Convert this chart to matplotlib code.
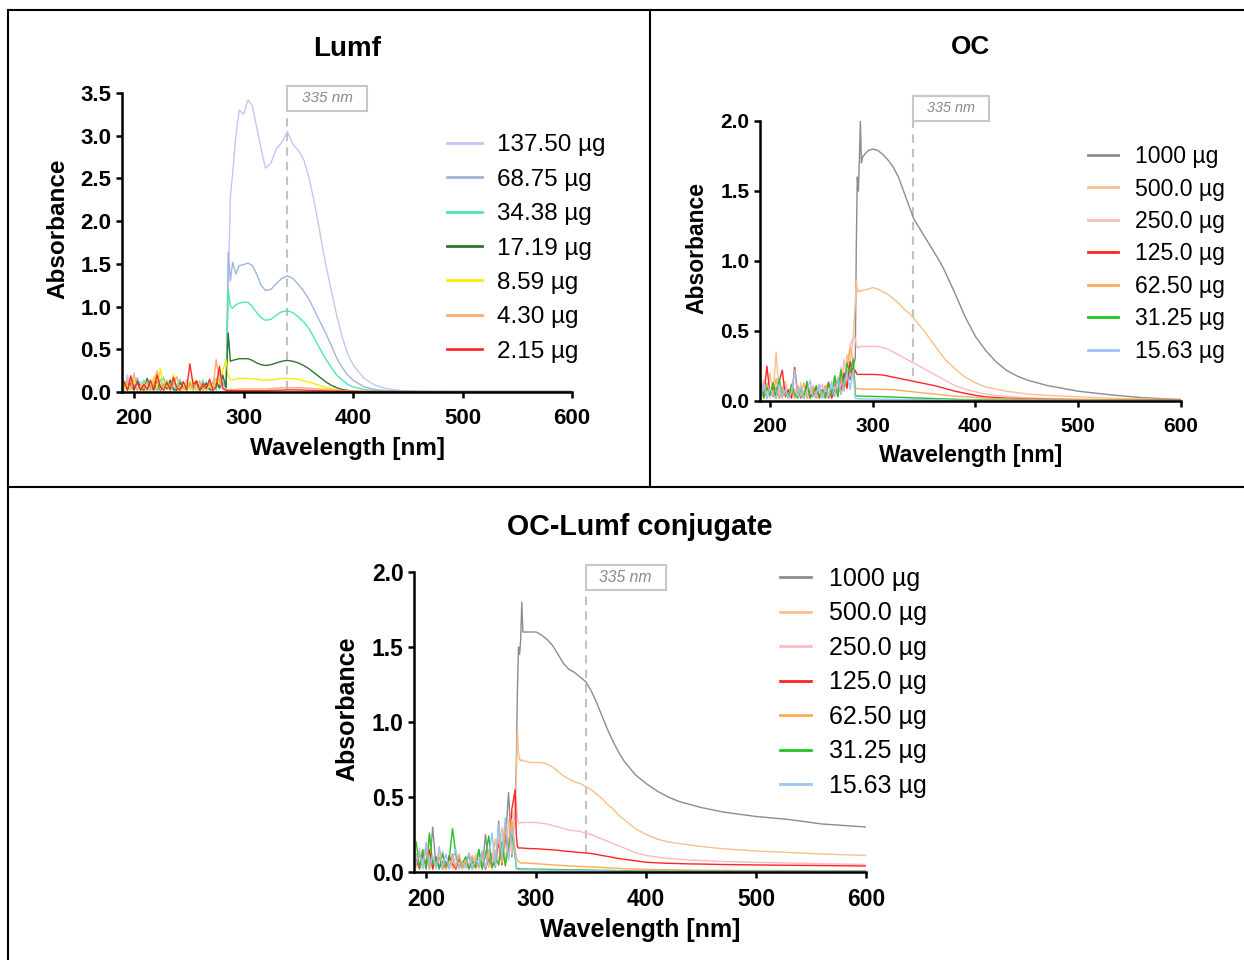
import matplotlib

matplotlib.use("Agg")
import matplotlib.pyplot as plt
import matplotlib.transforms as mtransforms
from matplotlib.lines import Line2D
from matplotlib.patches import Rectangle
from matplotlib.ticker import FormatStrFormatter, MultipleLocator

plt.rcParams["font.family"] = ["Liberation Sans", "DejaVu Sans"]

# ---------------------------------------------------------------- data
# shared noisy region below ~283 nm (every 3 nm)
NOISE_WL = [191, 194, 197, 200, 203, 206, 209, 212, 215, 218, 221, 224, 227, 230,
            233, 236, 239, 242, 245, 248, 251, 254, 257, 260, 263, 266, 269, 272,
            275, 278, 281]

# --- Lumf
LUMF_WL = NOISE_WL + [284, 286, 288, 290, 293, 296, 300, 304, 308, 312, 316, 320,
                      325, 330, 335, 340, 345, 350, 355, 360, 365, 370, 375, 380,
                      385, 390, 395, 400, 410, 420, 430, 445, 460, 500, 550, 600]
LUMF_LABELS = ["137.50 µg", "68.75 µg", "34.38 µg", "17.19 µg", "8.59 µg", "4.30 µg", "2.15 µg"]
LUMF_COLORS = ["#c3c6f5", "#9fb6dc", "#4fe6ac", "#2f7430", "#f5ee00", "#ffad6b", "#ff2a2a"]

LUMF_137 = [0.04, 0.20, 0.03, 0.09, 0.02, 0.13, 0.05, 0.02, 0.11, 0.04, 0.16, 0.02, 0.07, 0.12,
            0.03, 0.08, 0.02, 0.10, 0.04, 0.14, 0.03, 0.06, 0.02, 0.11, 0.05, 0.09, 0.02, 0.13,
            0.04, 0.22, 0.08,
            0.05, 1.2, 2.3, 2.55, 3.0, 3.3, 3.25, 3.42, 3.35, 3.1, 2.85, 2.62, 2.68, 2.85, 2.92,
            3.05, 2.9, 2.83, 2.72, 2.5, 2.2, 1.85, 1.5, 1.2, 0.9, 0.65, 0.45, 0.32, 0.16, 0.08,
            0.04, 0.015, 0.01, 0.005, 0.005, 0.005]
LUMF_68 = [0.10, 0.02, 0.14, 0.05, 0.17, 0.02, 0.08, 0.12, 0.03, 0.09, 0.02, 0.15, 0.04, 0.06,
           0.02, 0.13, 0.05, 0.03, 0.12, 0.02, 0.08, 0.11, 0.03, 0.07, 0.02, 0.12, 0.04, 0.06,
           0.16, 0.03, 0.12,
           0.05, 1.64, 1.3, 1.52, 1.38, 1.48, 1.49, 1.51, 1.48, 1.38, 1.25, 1.19, 1.2, 1.27, 1.33,
           1.36, 1.33, 1.26, 1.18, 1.08, 0.95, 0.82, 0.69, 0.55, 0.4, 0.29, 0.2, 0.14, 0.06, 0.03,
           0.015, 0.01, 0.005, 0.005, 0.005, 0.005]
LUMF_34 = [0.02, 0.12, 0.06, 0.03, 0.11, 0.04, 0.14, 0.02, 0.06, 0.13, 0.02, 0.05, 0.17, 0.03,
           0.10, 0.02, 0.07, 0.15, 0.03, 0.05, 0.12, 0.02, 0.09, 0.03, 0.14, 0.02, 0.08, 0.11,
           0.02, 0.26, 0.10,
           0.05, 1.2, 1.0, 0.98, 1.02, 1.04, 1.05, 1.05, 1.0, 0.93, 0.87, 0.84, 0.85, 0.9, 0.94,
           0.95, 0.93, 0.88, 0.82, 0.74, 0.62, 0.5, 0.39, 0.29, 0.2, 0.14, 0.09, 0.06, 0.03, 0.015,
           0.01, 0.005, 0.005, 0.005, 0.005, 0.005]
LUMF_17 = [0.08, 0.03, 0.10, 0.02, 0.13, 0.06, 0.02, 0.16, 0.04, 0.03, 0.12, 0.02, 0.09, 0.04,
           0.14, 0.03, 0.02, 0.11, 0.05, 0.02, 0.10, 0.04, 0.13, 0.02, 0.06, 0.10, 0.03, 0.02,
           0.12, 0.05, 0.20,
           0.05, 0.69, 0.36, 0.37, 0.38, 0.39, 0.39, 0.39, 0.37, 0.34, 0.32, 0.31, 0.32, 0.34, 0.36,
           0.37, 0.36, 0.34, 0.31, 0.27, 0.22, 0.17, 0.12, 0.08, 0.05, 0.03, 0.02, 0.01, 0.005,
           0.005, 0.005, 0.005, 0.005, 0.005, 0.005, 0.005]
LUMF_8 = [0.03, 0.09, 0.02, 0.15, 0.03, 0.06, 0.10, 0.03, 0.02, 0.18, 0.05, 0.27, 0.03, 0.08,
          0.02, 0.20, 0.04, 0.06, 0.02, 0.12, 0.03, 0.15, 0.02, 0.05, 0.10, 0.03, 0.07, 0.02,
          0.14, 0.10, 0.25,
          0.38, 0.2, 0.14, 0.14, 0.15, 0.16, 0.16, 0.16, 0.155, 0.15, 0.14, 0.14, 0.14, 0.15, 0.16,
          0.16, 0.155, 0.15, 0.13, 0.115, 0.095, 0.075, 0.055, 0.04, 0.025, 0.015, 0.01, 0.008,
          0.005, 0.003, 0.003, 0.003, 0.003, 0.003, 0.003, 0.003]
LUMF_4 = [0.06, 0.14, 0.03, 0.22, 0.02, 0.08, 0.04, 0.12, 0.02, 0.10, 0.25, 0.03, 0.06, 0.14,
          0.02, 0.09, 0.18, 0.03, 0.05, 0.02, 0.11, 0.03, 0.08, 0.13, 0.02, 0.06, 0.10, 0.03,
          0.38, 0.12, 0.05,
          0.03, 0.03, 0.03, 0.03, 0.03, 0.035, 0.035, 0.035, 0.035, 0.035, 0.035, 0.035, 0.04,
          0.045, 0.05, 0.05, 0.05, 0.05, 0.048, 0.045, 0.04, 0.035, 0.03, 0.025, 0.02, 0.015,
          0.012, 0.01, 0.008, 0.005, 0.004, 0.004, 0.004, 0.004, 0.004, 0.004]
LUMF_2 = [0.12, 0.02, 0.19, 0.04, 0.11, 0.02, 0.09, 0.03, 0.14, 0.02, 0.20, 0.06, 0.02, 0.11,
          0.03, 0.17, 0.05, 0.02, 0.12, 0.03, 0.33, 0.08, 0.13, 0.02, 0.10, 0.04, 0.15, 0.02,
          0.06, 0.30, 0.04,
          0.02, 0.015, 0.015, 0.015, 0.015, 0.015, 0.015, 0.015, 0.015, 0.015, 0.015, 0.015,
          0.018, 0.02, 0.022, 0.025, 0.025, 0.024, 0.022, 0.02, 0.018, 0.015, 0.013, 0.011, 0.01,
          0.008, 0.007, 0.006, 0.005, 0.004, 0.004, 0.003, 0.003, 0.003, 0.003, 0.003]

# --- OC and OC-Lumf conjugate share doses and colours
DOSE_LABELS = ["1000 µg", "500.0 µg", "250.0 µg", "125.0 µg", "62.50 µg", "31.25 µg", "15.63 µg"]
DOSE_COLORS = ["#8c8c8c", "#f7c08e", "#ffb9c0", "#ff2424", "#ffab55", "#22c322", "#9cc4f2"]

OC_WL = NOISE_WL + [283, 284, 285, 286, 287, 288, 289, 290, 293, 296, 300, 305, 310, 315,
                    320, 325, 330, 335, 340, 350, 360, 365, 370, 380, 390, 400, 410, 420,
                    430, 440, 450, 470, 500, 530, 560, 600]
OC_1000 = [0.04, 0.12, 0.02, 0.08, 0.03, 0.10, 0.02, 0.06, 0.11, 0.02, 0.07, 0.03, 0.09, 0.02,
           0.05, 0.10, 0.03, 0.06, 0.02, 0.08, 0.04, 0.11, 0.02, 0.07, 0.12, 0.04, 0.16, 0.08,
           0.22, 0.15, 0.25,
           0.3, 1.1, 1.6, 1.5, 1.72, 2.0, 1.7, 1.74, 1.77, 1.79, 1.8, 1.79, 1.76, 1.72, 1.67, 1.6,
           1.5, 1.4, 1.3, 1.18, 1.06, 1.0, 0.93, 0.77, 0.6, 0.46, 0.36, 0.28, 0.22, 0.18, 0.15,
           0.11, 0.07, 0.045, 0.025, 0.01]
OC_500 = [0.06, 0.15, 0.03, 0.20, 0.05, 0.35, 0.02, 0.09, 0.14, 0.03, 0.08, 0.02, 0.11, 0.04,
          0.07, 0.02, 0.10, 0.05, 0.03, 0.12, 0.02, 0.09, 0.14, 0.03, 0.18, 0.06, 0.24, 0.10,
          0.33, 0.27, 0.45,
          0.7, 0.86, 0.8, 0.78, 0.79, 0.78, 0.79, 0.79, 0.795, 0.8, 0.81, 0.8, 0.78, 0.76, 0.73,
          0.7, 0.66, 0.63, 0.59, 0.5, 0.4, 0.35, 0.3, 0.23, 0.17, 0.13, 0.1, 0.085, 0.07, 0.06,
          0.05, 0.04, 0.03, 0.02, 0.015, 0.01]
OC_250 = [0.03, 0.10, 0.05, 0.02, 0.14, 0.04, 0.08, 0.02, 0.12, 0.05, 0.03, 0.09, 0.02, 0.13,
          0.04, 0.06, 0.02, 0.11, 0.03, 0.07, 0.12, 0.02, 0.06, 0.10, 0.04, 0.15, 0.08, 0.30,
          0.12, 0.40, 0.45,
          0.45, 0.4, 0.38, 0.39, 0.38, 0.39, 0.39, 0.39, 0.39, 0.39, 0.39, 0.39, 0.38, 0.37, 0.35,
          0.33, 0.31, 0.29, 0.27, 0.23, 0.19, 0.17, 0.15, 0.11, 0.085, 0.065, 0.05, 0.04, 0.033,
          0.028, 0.024, 0.018, 0.013, 0.01, 0.008, 0.006]
OC_125 = [0.12, 0.03, 0.25, 0.05, 0.10, 0.02, 0.14, 0.22, 0.03, 0.08, 0.02, 0.24, 0.05, 0.09,
          0.02, 0.12, 0.04, 0.03, 0.10, 0.02, 0.08, 0.05, 0.13, 0.02, 0.07, 0.16, 0.05, 0.20,
          0.09, 0.28, 0.18,
          0.22, 0.2, 0.19, 0.19, 0.19, 0.19, 0.19, 0.19, 0.19, 0.19, 0.19, 0.188, 0.185, 0.178,
          0.17, 0.163, 0.155, 0.148, 0.14, 0.125, 0.11, 0.1, 0.09, 0.07, 0.055, 0.04, 0.03,
          0.025, 0.02, 0.018, 0.015, 0.012, 0.01, 0.008, 0.008, 0.008]
OC_62 = [0.08, 0.02, 0.13, 0.06, 0.04, 0.16, 0.02, 0.10, 0.05, 0.03, 0.12, 0.02, 0.09, 0.04,
         0.13, 0.02, 0.06, 0.10, 0.03, 0.05, 0.02, 0.11, 0.04, 0.08, 0.14, 0.03, 0.20, 0.07,
         0.25, 0.38, 0.30,
         0.1, 0.09, 0.088, 0.087, 0.086, 0.086, 0.086, 0.085, 0.085, 0.085, 0.085, 0.084, 0.083,
         0.082, 0.08, 0.077, 0.073, 0.069, 0.065, 0.057, 0.05, 0.046, 0.042, 0.035, 0.03, 0.025,
         0.02, 0.017, 0.015, 0.013, 0.012, 0.01, 0.008, 0.007, 0.006, 0.005]
OC_31 = [0.15, 0.02, 0.10, 0.04, 0.13, 0.02, 0.16, 0.03, 0.07, 0.02, 0.12, 0.05, 0.02, 0.09,
         0.03, 0.14, 0.02, 0.06, 0.11, 0.03, 0.08, 0.02, 0.12, 0.05, 0.18, 0.03, 0.22, 0.10,
         0.27, 0.20, 0.30,
         0.04, 0.038, 0.036, 0.035, 0.035, 0.035, 0.035, 0.035, 0.034, 0.034, 0.033, 0.032,
         0.031, 0.03, 0.028, 0.027, 0.025, 0.024, 0.022, 0.02, 0.017, 0.016, 0.015, 0.012, 0.01,
         0.009, 0.008, 0.007, 0.006, 0.006, 0.005, 0.005, 0.004, 0.004, 0.004, 0.004]
OC_15 = [0.03, 0.13, 0.02, 0.09, 0.05, 0.02, 0.12, 0.03, 0.08, 0.02, 0.06, 0.22, 0.03, 0.10,
         0.02, 0.07, 0.15, 0.03, 0.05, 0.12, 0.02, 0.09, 0.04, 0.14, 0.03, 0.17, 0.05, 0.12,
         0.20, 0.08, 0.22,
         0.02, 0.018, 0.016, 0.015, 0.015, 0.015, 0.015, 0.015, 0.015, 0.014, 0.014, 0.014,
         0.013, 0.013, 0.012, 0.012, 0.011, 0.011, 0.01, 0.009, 0.008, 0.008, 0.007, 0.006,
         0.006, 0.005, 0.005, 0.004, 0.004, 0.004, 0.004, 0.003, 0.003, 0.003, 0.003, 0.003]

CONJ_WL = NOISE_WL + [282, 283, 284, 285, 286, 287, 288, 290, 295, 300, 305, 310, 315, 320,
                      325, 330, 335, 340, 345, 350, 355, 360, 365, 370, 375, 380, 390, 400,
                      410, 420, 430, 440, 450, 470, 500, 530, 560, 600]
CONJ_1000 = [0.05, 0.12, 0.03, 0.18, 0.02, 0.30, 0.04, 0.10, 0.02, 0.07, 0.03, 0.12, 0.02, 0.08,
             0.04, 0.06, 0.02, 0.10, 0.03, 0.15, 0.02, 0.25, 0.04, 0.12, 0.03, 0.34, 0.05, 0.20,
             0.53, 0.10, 0.45,
             0.7, 1.2, 1.5, 1.45, 1.55, 1.8, 1.6, 1.6, 1.6, 1.6, 1.58, 1.55, 1.51, 1.45, 1.39,
             1.35, 1.33, 1.3, 1.27, 1.21, 1.13, 1.04, 0.95, 0.87, 0.8, 0.74, 0.65, 0.59, 0.54,
             0.5, 0.47, 0.45, 0.43, 0.4, 0.37, 0.35, 0.32, 0.3]
CONJ_500 = [0.10, 0.03, 0.14, 0.05, 0.22, 0.02, 0.09, 0.13, 0.03, 0.06, 0.02, 0.11, 0.04, 0.08,
            0.02, 0.10, 0.05, 0.03, 0.12, 0.02, 0.07, 0.14, 0.03, 0.09, 0.22, 0.04, 0.30, 0.06,
            0.35, 0.12, 0.50,
            0.6, 0.95, 0.8, 0.75, 0.74, 0.75, 0.74, 0.74, 0.73, 0.73, 0.73, 0.72, 0.7, 0.67, 0.64,
            0.62, 0.6, 0.59, 0.57, 0.55, 0.52, 0.49, 0.45, 0.42, 0.38, 0.35, 0.29, 0.25, 0.22,
            0.2, 0.19, 0.18, 0.17, 0.155, 0.14, 0.13, 0.12, 0.11]
CONJ_250 = [0.03, 0.16, 0.05, 0.02, 0.12, 0.04, 0.09, 0.02, 0.14, 0.03, 0.06, 0.02, 0.10, 0.04,
            0.07, 0.02, 0.11, 0.03, 0.05, 0.09, 0.02, 0.12, 0.05, 0.03, 0.14, 0.06, 0.18, 0.32,
            0.15, 0.40, 0.30,
            0.5, 0.35, 0.33, 0.32, 0.33, 0.33, 0.33, 0.33, 0.33, 0.33, 0.325, 0.32, 0.31, 0.3,
            0.29, 0.28, 0.275, 0.27, 0.26, 0.25, 0.235, 0.22, 0.205, 0.19, 0.175, 0.16, 0.13,
            0.11, 0.1, 0.09, 0.085, 0.08, 0.077, 0.07, 0.065, 0.06, 0.055, 0.05]
CONJ_125 = [0.08, 0.02, 0.12, 0.04, 0.15, 0.02, 0.10, 0.03, 0.07, 0.02, 0.11, 0.05, 0.02, 0.09,
            0.03, 0.06, 0.12, 0.02, 0.08, 0.04, 0.13, 0.02, 0.10, 0.04, 0.07, 0.20, 0.05, 0.30,
            0.10, 0.42, 0.55,
            0.25, 0.17, 0.16, 0.16, 0.16, 0.16, 0.16, 0.158, 0.156, 0.155, 0.153, 0.15, 0.148,
            0.145, 0.14, 0.137, 0.133, 0.13, 0.127, 0.123, 0.117, 0.11, 0.104, 0.097, 0.09,
            0.085, 0.075, 0.065, 0.061, 0.058, 0.056, 0.054, 0.053, 0.05, 0.047, 0.045, 0.043,
            0.04]
CONJ_62 = [0.12, 0.04, 0.06, 0.15, 0.02, 0.10, 0.03, 0.08, 0.13, 0.02, 0.05, 0.09, 0.03, 0.12,
           0.02, 0.07, 0.04, 0.11, 0.02, 0.06, 0.10, 0.03, 0.15, 0.02, 0.12, 0.22, 0.06, 0.28,
           0.20, 0.35, 0.15,
           0.1, 0.08, 0.07, 0.065, 0.062, 0.06, 0.06, 0.06, 0.058, 0.055, 0.053, 0.05, 0.048,
           0.045, 0.043, 0.04, 0.039, 0.037, 0.036, 0.034, 0.032, 0.03, 0.028, 0.026, 0.024,
           0.022, 0.02, 0.018, 0.016, 0.015, 0.014, 0.013, 0.012, 0.011, 0.01, 0.009, 0.009,
           0.008]
CONJ_31 = [0.20, 0.03, 0.15, 0.02, 0.26, 0.05, 0.09, 0.02, 0.12, 0.04, 0.08, 0.29, 0.12, 0.03,
           0.06, 0.10, 0.02, 0.07, 0.03, 0.15, 0.02, 0.11, 0.24, 0.03, 0.09, 0.05, 0.20, 0.04,
           0.18, 0.26, 0.10,
           0.03, 0.025, 0.022, 0.02, 0.02, 0.02, 0.02, 0.02, 0.019, 0.019, 0.018, 0.018, 0.017,
           0.016, 0.016, 0.015, 0.014, 0.014, 0.013, 0.013, 0.012, 0.011, 0.011, 0.01, 0.009,
           0.009, 0.008, 0.007, 0.007, 0.006, 0.006, 0.006, 0.005, 0.005, 0.005, 0.005, 0.005,
           0.005]
CONJ_15 = [0.05, 0.14, 0.02, 0.20, 0.04, 0.11, 0.02, 0.17, 0.03, 0.12, 0.02, 0.08, 0.15, 0.02,
           0.06, 0.03, 0.13, 0.02, 0.09, 0.04, 0.14, 0.03, 0.10, 0.26, 0.04, 0.32, 0.10, 0.36,
           0.08, 0.30, 0.12,
           0.02, 0.018, 0.016, 0.015, 0.015, 0.015, 0.015, 0.015, 0.014, 0.014, 0.013, 0.013,
           0.012, 0.012, 0.011, 0.011, 0.01, 0.01, 0.01, 0.009, 0.009, 0.008, 0.008, 0.007,
           0.007, 0.006, 0.006, 0.005, 0.005, 0.005, 0.004, 0.004, 0.004, 0.004, 0.004, 0.004,
           0.004, 0.004]

MARK_LABEL = "335 nm"

# ---------------------------------------------------------------- figure
W, H = 1244, 960
fig = plt.figure(figsize=(W / 100, H / 100), dpi=100)


def px_rect(x0, y_top, x1, y_bot):
    """pixel box (origin top-left) -> figure fraction rect"""
    return [x0 / W, 1 - y_bot / H, (x1 - x0) / W, (y_bot - y_top) / H]


def draw_panel(rect, title, wl, series, labels, colors, xmin, ymax, fs, mark,
               line_span, box_px, title_y, xlab_y, ylab_x, leg_xy, leg_fs,
               handlelength, handletextpad, labelspacing):
    ax = fig.add_axes(rect)
    for ys, lab, c in zip(series, labels, colors):
        ax.plot(wl, ys, color=c, lw=1.0, label=lab)
    ax.set_xlim(xmin, 600)
    ax.set_ylim(0, ymax)
    ax.xaxis.set_major_locator(MultipleLocator(100))
    ax.yaxis.set_major_locator(MultipleLocator(0.5))
    ax.yaxis.set_major_formatter(FormatStrFormatter("%.1f"))
    for s in ("top", "right"):
        ax.spines[s].set_visible(False)
    for s in ("left", "bottom"):
        ax.spines[s].set_linewidth(1.8)
    ax.tick_params(direction="out", length=4.5, width=1.8, labelsize=16 * fs)
    ax.tick_params(axis="x", pad=7)
    ax.tick_params(axis="y", pad=3)
    for lab in ax.get_xticklabels() + ax.get_yticklabels():
        lab.set_fontweight("bold")

    ax.set_xlabel("Wavelength [nm]", fontsize=17.5 * fs, fontweight="bold", va="center")
    ax.xaxis.set_label_coords(0.5, xlab_y)
    ax.set_ylabel("Absorbance", fontsize=17.5 * fs, fontweight="bold", va="center")
    ax.yaxis.set_label_coords(ylab_x, 0.545)
    ax.text(0.5, title_y, title, transform=ax.transAxes, ha="center", va="center",
            fontsize=20 * fs, fontweight="bold")

    # 335 nm reference line with its boxed label
    ax.plot([mark, mark], line_span, color="#c2c2c2", lw=1.5, ls=(0, (4, 3)), zorder=1)
    bw, bh = box_px
    tr = mtransforms.IdentityTransform() + mtransforms.ScaledTranslation(
        mark, line_span[1], ax.transData)
    fig.add_artist(Rectangle((0, 0), bw, bh, transform=tr, fill=False,
                             ec="#c8c8c8", lw=1.5))
    ax.annotate(MARK_LABEL, xy=(mark, line_span[1]), xytext=(bw / 2 * 0.72, bh / 2 * 0.72),
                textcoords="offset points", ha="center", va="center", fontsize=11 * fs,
                fontstyle="italic", color="#8a8a8a", annotation_clip=False)

    leg = ax.legend(loc="upper left", bbox_to_anchor=leg_xy, frameon=False,
                    fontsize=leg_fs, handlelength=handlelength,
                    handletextpad=handletextpad, labelspacing=labelspacing,
                    borderpad=0, borderaxespad=0)
    for h in leg.get_lines():
        h.set_linewidth(2.0)
    return ax


draw_panel(px_rect(122, 93, 572, 392), "Lumf", LUMF_WL,
           [LUMF_137, LUMF_68, LUMF_34, LUMF_17, LUMF_8, LUMF_4, LUMF_2],
           LUMF_LABELS, LUMF_COLORS, xmin=189, ymax=3.5, fs=1.0, mark=340,
           line_span=[0.03, 3.29], box_px=(80, 25), title_y=1.148, xlab_y=-0.19,
           ylab_x=-0.142, leg_xy=(0.722, 0.862), leg_fs=17.5,
           handlelength=1.45, handletextpad=0.62, labelspacing=0.51)

draw_panel(px_rect(760, 121, 1181, 401), "OC", OC_WL,
           [OC_1000, OC_500, OC_250, OC_125, OC_62, OC_31, OC_15],
           DOSE_LABELS, DOSE_COLORS, xmin=190.3, ymax=2.0, fs=0.94, mark=339,
           line_span=[0.18, 2.0], box_px=(76, 25), title_y=1.265, xlab_y=-0.193,
           ylab_x=-0.15, leg_xy=(0.779, 0.914), leg_fs=16.6,
           handlelength=1.32, handletextpad=0.74, labelspacing=0.41)

draw_panel(px_rect(414, 572, 866, 872), "OC-Lumf conjugate", CONJ_WL,
           [CONJ_1000, CONJ_500, CONJ_250, CONJ_125, CONJ_62, CONJ_31, CONJ_15],
           DOSE_LABELS, DOSE_COLORS, xmin=189, ymax=2.0, fs=1.03, mark=345,
           line_span=[0.13, 1.88], box_px=(80, 25), title_y=1.15, xlab_y=-0.193,
           ylab_x=-0.148, leg_xy=(0.81, 1.017), leg_fs=18,
           handlelength=1.24, handletextpad=0.72, labelspacing=0.42)

# panel frame lines
for (x0, y0, x1, y1) in [(8, 10, 1244, 10), (8, 10, 8, 960), (8, 487, 1244, 487),
                         (650, 10, 650, 487)]:
    fig.add_artist(Line2D([x0 / W, x1 / W], [1 - y0 / H, 1 - y1 / H],
                          transform=fig.transFigure, color="black", lw=1.5))

fig.savefig("out.png", dpi=100, facecolor="white")
